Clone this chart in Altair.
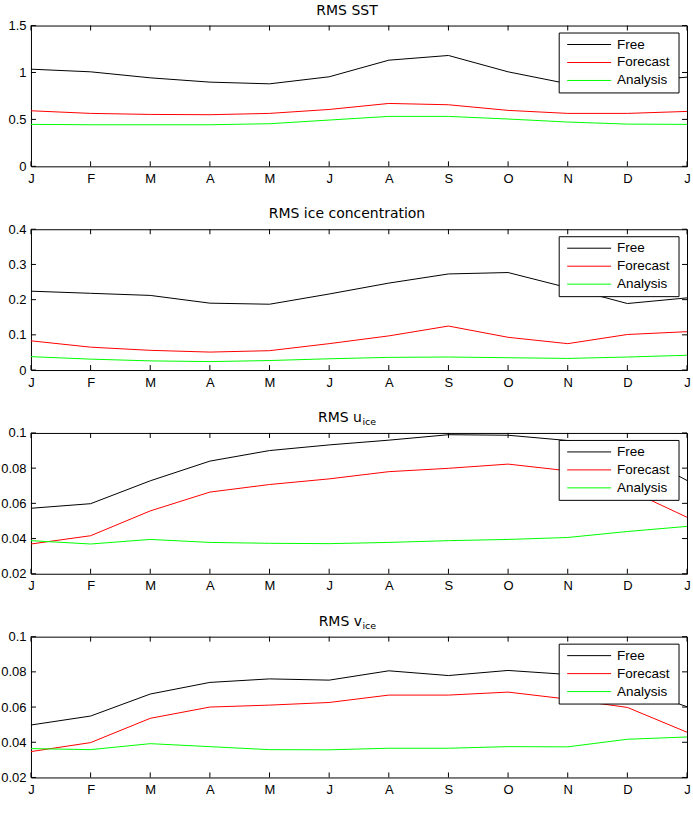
import altair as alt
import pandas as pd

# ---------------- data ----------------
month_labels = ["J", "F", "M", "A", "M", "J", "A", "S", "O", "N", "D", "J"]
month_idx = list(range(len(month_labels)))
series = ["Free", "Forecast", "Analysis"]
colors = ["#000000", "#ff0000", "#00ff00"]

sst_free = [1.035, 1.007, 0.943, 0.897, 0.879, 0.954, 1.131, 1.181, 1.007, 0.880, 0.900, 0.950]
sst_fc = [0.592, 0.564, 0.553, 0.550, 0.564, 0.606, 0.670, 0.656, 0.596, 0.564, 0.564, 0.585]
sst_an = [0.447, 0.443, 0.443, 0.443, 0.454, 0.493, 0.532, 0.532, 0.504, 0.472, 0.450, 0.447]

ic_free = [0.224, 0.218, 0.212, 0.190, 0.187, 0.216, 0.247, 0.273, 0.277, 0.234, 0.189, 0.205]
ic_fc = [0.083, 0.065, 0.056, 0.051, 0.055, 0.075, 0.097, 0.125, 0.093, 0.075, 0.101, 0.109]
ic_an = [0.038, 0.031, 0.026, 0.024, 0.027, 0.032, 0.036, 0.037, 0.035, 0.033, 0.037, 0.042]

u_free = [0.0572, 0.0598, 0.0728, 0.0840, 0.0900, 0.0932, 0.0959, 0.0990, 0.0987, 0.0957, 0.0910, 0.0730]
u_fc = [0.0369, 0.0416, 0.0557, 0.0664, 0.0707, 0.0739, 0.0780, 0.0799, 0.0823, 0.0785, 0.0680, 0.0521]
u_an = [0.0388, 0.0369, 0.0395, 0.0378, 0.0373, 0.0371, 0.0378, 0.0388, 0.0395, 0.0406, 0.0440, 0.0469]

v_free = [0.0498, 0.0549, 0.0674, 0.0740, 0.0760, 0.0753, 0.0806, 0.0779, 0.0808, 0.0785, 0.0720, 0.0602]
v_fc = [0.0347, 0.0398, 0.0536, 0.0600, 0.0611, 0.0626, 0.0668, 0.0668, 0.0685, 0.0645, 0.0598, 0.0457]
v_an = [0.0364, 0.0358, 0.0392, 0.0375, 0.0358, 0.0357, 0.0366, 0.0366, 0.0375, 0.0374, 0.0417, 0.0430]

titles_main = ["RMS SST", "RMS ice concentration", "RMS u", "RMS v"]
titles_sub = ["", "", "ice", "ice"]
y_domains = [[0, 1.5], [0, 0.4], [0.02, 0.1], [0.02, 0.1]]
y_ticks = [[0, 0.5, 1, 1.5], [0, 0.1, 0.2, 0.3, 0.4],
           [0.02, 0.04, 0.06, 0.08, 0.1], [0.02, 0.04, 0.06, 0.08, 0.1]]

# ---------------- style ----------------
W, H = 657, 141
TICK_FONT = "Liberation Sans"
TITLE_FONT = "DejaVu Sans"
lab_expr = "[" + ",".join("'%s'" % m for m in month_labels) + "][datum.value]"


def make_panel(free, fc, an, ydom, yvals, tmain, tsub):
    df = pd.DataFrame({
        "m": month_idx * 3,
        "v": free + fc + an,
        "series": [s for s in series for _ in month_idx],
    })
    xenc = alt.X("m:Q", scale=alt.Scale(domain=[0, len(month_idx) - 1], nice=False, zero=False),
                 axis=alt.Axis(values=month_idx, labelExpr=lab_expr, title=None, ticks=False,
                               grid=False, domain=False, labelPadding=6, labelFlush=False,
                               labelOverlap=False, labelFont=TICK_FONT, labelFontSize=13,
                               labelColor="black"))
    yenc = alt.Y("v:Q", scale=alt.Scale(domain=ydom, nice=False, zero=False),
                 axis=alt.Axis(values=yvals, format="~g", title=None, ticks=False, grid=False,
                               domain=False, labelPadding=5, labelOverlap=False,
                               labelFont=TICK_FONT, labelFontSize=13, labelColor="black"))
    lines = alt.Chart(df).mark_line(strokeWidth=1).encode(
        x=xenc, y=yenc,
        color=alt.Color("series:N", scale=alt.Scale(domain=series, range=colors), legend=None),
    )
    xt = pd.DataFrame({"m": month_idx})
    yt = pd.DataFrame({"v": yvals})
    tick_top = alt.Chart(xt).mark_rule(color="black", strokeWidth=1).encode(
        x=xenc, y=alt.value(0), y2=alt.value(5))
    tick_bot = alt.Chart(xt).mark_rule(color="black", strokeWidth=1).encode(
        x=xenc, y=alt.value(H - 5), y2=alt.value(H))
    tick_l = alt.Chart(yt).mark_rule(color="black", strokeWidth=1).encode(
        y=yenc, x=alt.value(0), x2=alt.value(5))
    tick_r = alt.Chart(yt).mark_rule(color="black", strokeWidth=1).encode(
        y=yenc, x=alt.value(W - 5), x2=alt.value(W))

    # legend box (inside plot, top-right)
    box = alt.Chart(pd.DataFrame({"k": [0]})).mark_rect(
        fill="white", stroke="black", strokeWidth=1).encode(
        x=alt.value(529), x2=alt.value(649), y=alt.value(7.5), y2=alt.value(67.5))
    leg = []
    for i, (name, col) in enumerate(zip(series, colors)):
        d = pd.DataFrame({"series": [name]})
        yy = 19 + 18 * i
        leg.append(alt.Chart(d).mark_rule(color=col, strokeWidth=1).encode(
            x=alt.value(537), x2=alt.value(581), y=alt.value(yy)))
        leg.append(alt.Chart(d).mark_text(align="left", baseline="middle", font=TICK_FONT,
                                          fontSize=13.5, color="black").encode(
            x=alt.value(587), y=alt.value(yy), text="series:N"))

    # panel title
    tl = []
    center = 316.5
    if tsub:
        tl.append(alt.Chart(pd.DataFrame({"t": [tmain]})).mark_text(
            align="right", baseline="alphabetic", font=TITLE_FONT, fontSize=14, color="black").encode(
            x=alt.value(center + 15), y=alt.value(-11), text="t:N"))
        tl.append(alt.Chart(pd.DataFrame({"t": [tsub]})).mark_text(
            align="left", baseline="alphabetic", font=TITLE_FONT, fontSize=9.5, color="black").encode(
            x=alt.value(center + 15.5), y=alt.value(-7.5), text="t:N"))
    else:
        tl.append(alt.Chart(pd.DataFrame({"t": [tmain]})).mark_text(
            align="center", baseline="alphabetic", font=TITLE_FONT, fontSize=14, color="black").encode(
            x=alt.value(center), y=alt.value(-11), text="t:N"))

    return alt.layer(lines, tick_top, tick_bot, tick_l, tick_r, box, *leg, *tl).properties(
        width=W, height=H)


data_sets = [(sst_free, sst_fc, sst_an), (ic_free, ic_fc, ic_an),
             (u_free, u_fc, u_an), (v_free, v_fc, v_an)]
panels = [make_panel(f, c, a, y_domains[k], y_ticks[k], titles_main[k], titles_sub[k])
          for k, (f, c, a) in enumerate(data_sets)]

chart = alt.vconcat(*panels, spacing=63, bounds="flush").properties(
    padding={"left": 0, "top": 2, "right": 2, "bottom": 0},
    background="white",
).configure_view(stroke="black", strokeWidth=1)

chart.save("out.html", embed_options={"renderer": "svg", "actions": False})
